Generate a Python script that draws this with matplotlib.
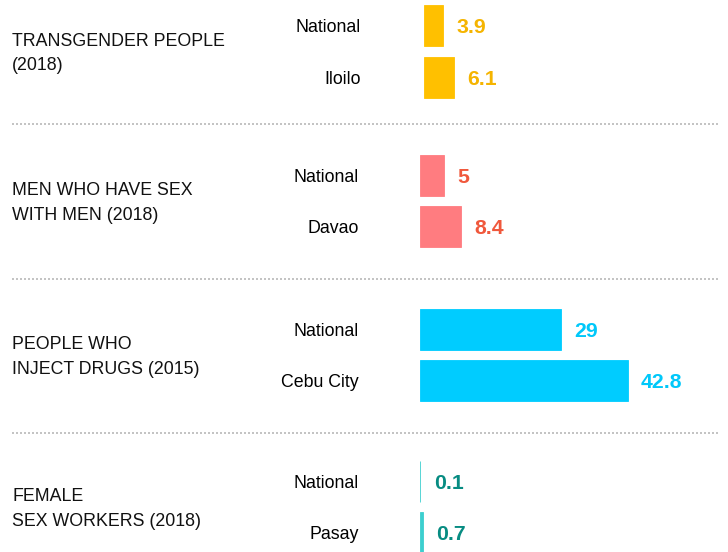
import matplotlib.pyplot as plt
from matplotlib.lines import Line2D

plt.rcParams['font.family'] = ['Liberation Sans', 'DejaVu Sans']

# data
groups = ["TRANSGENDER PEOPLE\n(2018)", "MEN WHO HAVE SEX\nWITH MEN (2018)",
          "PEOPLE WHO\nINJECT DRUGS (2015)", "FEMALE\nSEX WORKERS (2018)"]
places = [["National", "Iloilo"], ["National", "Davao"],
          ["National", "Cebu City"], ["National", "Pasay"]]
values = [[3.9, 6.1], [5, 8.4], [29, 42.8], [0.1, 0.7]]
value_text = [["3.9", "6.1"], ["5", "8.4"], ["29", "42.8"], ["0.1", "0.7"]]

bar_colors = ["#FFC000", "#FF7C80", "#00CCFF", "#3CCFCF"]
text_colors = ["#F5B400", "#F0583C", "#00C8FA", "#078C82"]

# layout (pixels, from top of figure)
W, H = 728, 552
centers = [51.5, 201, 355, 507]
lefts = [424, 420, 420, 420]
sep_y = [124, 279, 433]
px_per_unit = 4.85
ax_w = 300
ax_h = 103

fig = plt.figure(figsize=(W / 100, H / 100), dpi=100)

for k in range(len(groups)):
    ax = fig.add_axes([lefts[k] / W, 1 - (centers[k] + ax_h / 2) / H, ax_w / W, ax_h / H])
    ax.barh(range(2), values[k], height=0.8, color=bar_colors[k],
            edgecolor=bar_colors[k], linewidth=0.6)
    ax.set_xlim(0, ax_w / px_per_unit)
    ax.set_ylim(1.5, -0.5)
    for i, v in enumerate(values[k]):
        ax.annotate(value_text[k][i], xy=(v, i), xytext=(9.5, -1.5), textcoords="offset points",
                    ha="left", va="center", fontsize=15.3, fontweight="bold", color=text_colors[k])
    ax.set_yticks(range(2), labels=places[k])
    ax.tick_params(axis="y", length=0, pad=44 if k else 45.5, labelsize=12.8)
    ax.set_xticks([])
    for s in ax.spines.values():
        s.set_visible(False)
    ax.patch.set_alpha(0)
    fig.text(12 / W, 1 - (centers[k] + 2) / H, groups[k], ha="left", va="center",
             fontsize=12.8, linespacing=1.55, color="#111111")

for y in sep_y:
    fig.add_artist(Line2D([12 / W, 718 / W], [1 - y / H, 1 - y / H], transform=fig.transFigure,
                          color="#C4C4C4", linewidth=1.44, linestyle=(0, (1, 1))))

fig.savefig("out.png", dpi=100)
